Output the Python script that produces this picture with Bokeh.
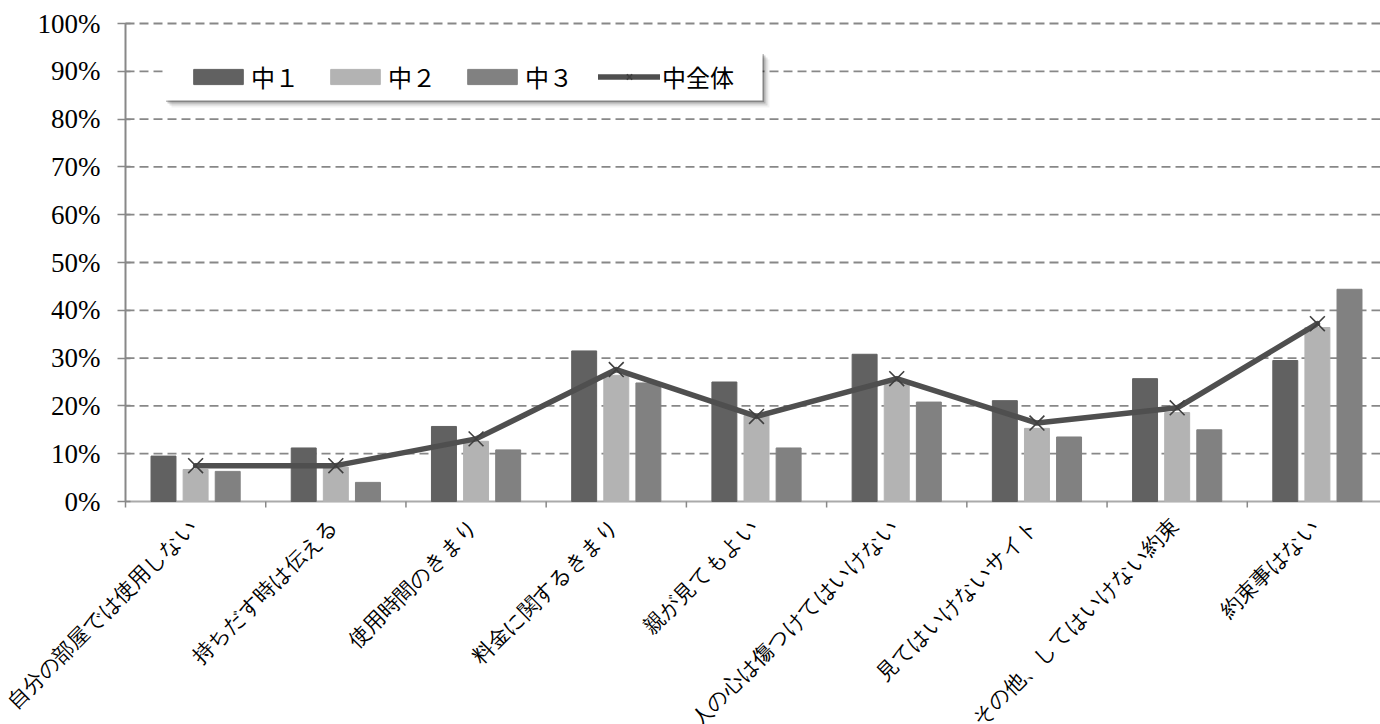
from bokeh.plotting import figure
from bokeh.models import (ColumnDataSource, Range1d, FixedTicker, PrintfTickFormatter,
                          Legend, LegendItem, BoxAnnotation, LabelSet)
from bokeh.transform import dodge
from bokeh.embed import file_html
from bokeh.resources import INLINE

categories = ["自分の部屋では使用しない", "持ちだす時は伝える", "使用時間のきまり",
              "料金に関するきまり", "親が見てもよい", "人の心は傷つけてはいけない",
              "見てはいけないサイト", "その他、してはいけない約束", "約束事はない"]
series_names = ["中１", "中２", "中３", "中全体"]
g1 = [9.5, 11.2, 15.7, 31.5, 25.0, 30.8, 21.1, 25.7, 29.5]
g2 = [6.7, 7.2, 12.6, 26.4, 18.0, 25.0, 15.3, 18.6, 36.4]
g3 = [6.3, 4.0, 10.8, 24.8, 11.2, 20.8, 13.5, 15.0, 44.4]
overall = [7.5, 7.5, 13.1, 27.6, 17.8, 25.7, 16.4, 19.6, 37.2]
y_ticks = list(range(0, 101, 10))

# layout (pixels)
W, H = 1380, 724
AXIS_X, TOP = 125, 23   # page position of the value axis / of the 100% line
PLOT_H = 478            # pixels between 0% and 100%
X_END = 8.95

px_x = X_END / (W - AXIS_X)      # data units per pixel (x)
px_y = 100.0 / PLOT_H            # data units per pixel (y)
x_start = -AXIS_X * px_x
y_end = 100 + TOP * px_y
y_start = -(H - TOP - PLOT_H) * px_y

centers = [i + 0.5 for i in range(len(categories))]
bounds = [i for i in range(len(categories) + 1)]
n_cat = len(categories)

src = ColumnDataSource(dict(x=centers, g1=g1, g2=g2, g3=g3, overall=overall))

p = figure(width=W, height=H, output_backend="svg", toolbar_location=None,
           x_range=Range1d(x_start, X_END), y_range=Range1d(y_start, y_end),
           x_axis_location=None,
           min_border_left=0, min_border_right=0, min_border_top=0,
           min_border_bottom=0)
p.outline_line_color = None
p.background_fill_color = "white"
p.xgrid.grid_line_color = None
p.ygrid.grid_line_color = None

# dashed value grid, drawn from the axis to the right edge
grid_vals = [v for v in y_ticks if v > 0]
grid_src = ColumnDataSource(dict(y=grid_vals, x0=[0] * len(grid_vals),
                                 x1=[X_END] * len(grid_vals)))
p.segment(x0="x0", y0="y", x1="x1", y1="y", source=grid_src,
          line_color="#888888", line_dash="9 5", line_width=1.8)

# value axis fixed at the left edge of the categories
p.yaxis.fixed_location = 0
p.yaxis.ticker = FixedTicker(ticks=y_ticks)
p.yaxis.bounds = (0, 100)
p.yaxis.formatter = PrintfTickFormatter(format="%d%%")
p.yaxis.axis_line_color = "#888888"
p.yaxis.axis_line_width = 2
p.yaxis.major_tick_line_color = "#888888"
p.yaxis.major_tick_line_width = 1.5
p.yaxis.major_tick_out = 8
p.yaxis.major_tick_in = 5
p.yaxis.minor_tick_line_color = None
p.yaxis.major_label_standoff = 17
p.yaxis.major_label_text_font = "Liberation Serif, DejaVu Serif, serif"
p.yaxis.major_label_text_font_size = "27px"
p.yaxis.major_label_text_color = "black"

# category axis: baseline, boundary ticks and rotated labels
p.segment(x0=[0], y0=[0], x1=[X_END], y1=[0], line_color="#aaaaaa", line_width=2)
tick_src = ColumnDataSource(dict(x=bounds, y0=[0] * len(bounds),
                                 y1=[-6 * px_y] * len(bounds)))
p.segment(x0="x", y0="y0", x1="x", y1="y1", source=tick_src,
          line_color="#888888", line_width=1.5)
label_src = ColumnDataSource(dict(x=centers, y=[-21 * px_y] * n_cat, text=categories))
p.add_layout(LabelSet(x="x", y="y", text="text", source=label_src, angle=0.785398,
                      x_offset=-2, text_align="right", text_baseline="middle",
                      text_font="Noto Sans CJK JP", text_font_size="21px",
                      text_color="black"))

BW = 0.178
OFF = 0.229
b1 = p.vbar(x=dodge("x", -OFF), top="g1", width=BW, source=src,
            fill_color="#616161", line_color="#616161")
b2 = p.vbar(x=dodge("x", 0), top="g2", width=BW, source=src,
            fill_color="#b3b3b3", line_color="#b3b3b3")
b3 = p.vbar(x=dodge("x", OFF), top="g3", width=BW, source=src,
            fill_color="#818181", line_color="#818181")
ln = p.line(x="x", y="overall", source=src, line_color="#4f4f4f", line_width=5.5,
            line_cap="round", line_join="round")
mk = p.scatter(x="x", y="overall", source=src, marker="x", size=21,
               line_color="#3f3f3f", line_width=1.6)

# legend box with soft shadow (pixel layout converted through the scales)
box_l, box_r, box_t, box_b = 39, 637, 29, 77  # px from value axis / 100% line
for off, a in [(7, 0.05), (5, 0.10), (3, 0.18), (1.5, 0.25)]:
    p.add_layout(BoxAnnotation(left=(box_l + off) * px_x, right=(box_r + off) * px_x,
                               top=100 - (box_t + off) * px_y,
                               bottom=100 - (box_b + off) * px_y,
                               fill_color="black", fill_alpha=a, line_color=None))
p.add_layout(BoxAnnotation(left=box_l * px_x, right=box_r * px_x,
                           top=100 - box_t * px_y, bottom=100 - box_b * px_y,
                           fill_color="white", fill_alpha=1.0, line_color=None))

legend = Legend(items=[LegendItem(label=series_names[0], renderers=[b1]),
                       LegendItem(label=series_names[1], renderers=[b2]),
                       LegendItem(label=series_names[2], renderers=[b3]),
                       LegendItem(label=series_names[3], renderers=[ln, mk])],
                location=(AXIS_X + 62, H - 94), orientation="horizontal",
                background_fill_alpha=0, border_line_color=None,
                padding=12, spacing=25, glyph_width=62, glyph_height=19,
                label_standoff=2, label_text_font="Noto Sans CJK JP",
                label_text_font_size="24px", label_text_color="black",
                margin=0)
p.add_layout(legend)

open("out.html", "w").write(file_html(p, INLINE))
